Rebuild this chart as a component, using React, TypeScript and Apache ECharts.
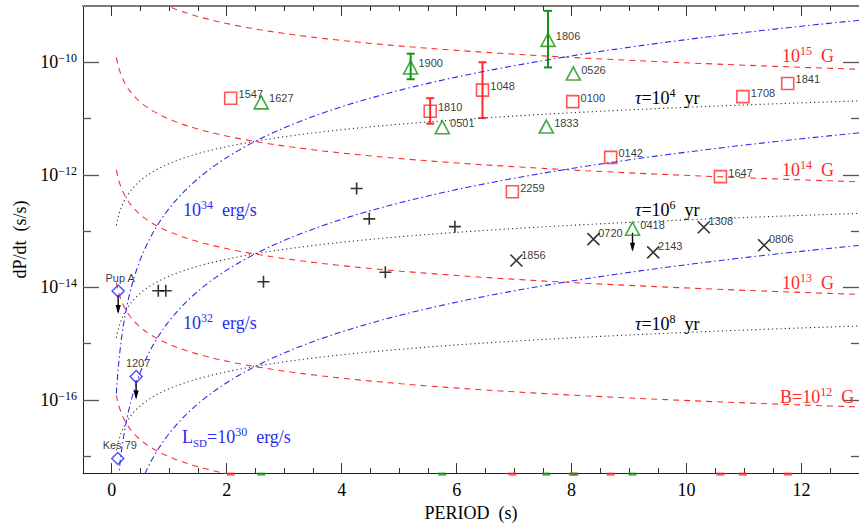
import React, { useEffect, useRef } from "react";
import * as echarts from "echarts";

// ---------- axis ticks ----------
const X_MAJOR_TICKS = [0, 2, 4, 6, 8, 10, 12];
const X_MINOR_TICKS = [0.5, 1, 1.5, 2.5, 3, 3.5, 4.5, 5, 5.5, 6.5, 7, 7.5, 8.5, 9, 9.5, 10.5, 11, 11.5, 12.5];
const Y_MAJOR_TICKS = [-16, -14, -12, -10]; // log10(dP/dt)
const Y_MINOR_TICKS = [-17, -15, -13, -11];

// ---------- data (P in s, Pdot in s/s) ----------
const AXP_NAMES = ["1547", "1810", "1048", "0100", "1708", "1841", "0142", "1647", "2259"];
const AXP_P = [2.07, 5.54, 6.45, 8.02, 10.98, 11.76, 8.68, 10.59, 6.97];
const AXP_PDOT = [2.3e-11, 1.35e-11, 3.2e-11, 2.0e-11, 2.45e-11, 4.2e-11, 2.04e-12, 9.3e-13, 5.0e-13];

const AXP_ERR_P = [5.54, 6.45];
const AXP_ERR_LOW = [8.1e-12, 1.02e-11];
const AXP_ERR_HIGH = [2.3e-11, 1.0e-10];

const SGR_NAMES = ["1627", "1900", "1806", "0526", "0501", "1833", "0418"];
const SGR_P = [2.6, 5.2, 7.59, 8.03, 5.75, 7.56, 9.06];
const SGR_PDOT = [1.94e-11, 8.1e-11, 2.5e-10, 6.3e-11, 7.0e-12, 7.2e-12, 1.1e-13];

const SGR_ERR_P = [5.2, 7.59];
const SGR_ERR_LOW = [5.0e-11, 8.1e-11];
const SGR_ERR_HIGH = [1.42e-10, 8.2e-10];

const XDINS_NAMES = ["1856", "0720", "2143", "1308", "0806"];
const XDINS_P = [7.04, 8.38, 9.42, 10.3, 11.35];
const XDINS_PDOT = [3.0e-14, 7.2e-14, 4.2e-14, 1.17e-13, 5.6e-14];

const HBPSR_P = [4.26, 4.48, 5.97, 4.76, 2.64, 0.81, 0.94];
const HBPSR_PDOT = [5.7e-13, 1.65e-13, 1.2e-13, 1.86e-14, 1.26e-14, 8.7e-15, 8.7e-15];

const CCO_NAMES = ["Pup A", "1207", "Kes 79"];
const CCO_P = [0.112, 0.424, 0.105];
const CCO_PDOT = [8.6e-15, 2.6e-16, 9.1e-18];

// upper limits (down arrows)
const LIMIT_P = [0.112, 0.424, 9.06];
const LIMIT_PDOT = [8.6e-15, 2.6e-16, 1.1e-13];

// rug marks on the period axis
const RUG_RED_P = [2.07, 6.97, 8.02, 8.68, 10.59, 10.98, 11.76];
const RUG_GREEN_P = [2.6, 5.75, 7.56, 8.05, 9.06];

// ---------- theoretical lines ----------
const B_FIELDS = [1e11, 1e12, 1e13, 1e14, 1e15]; // G
const TAU_YEARS = [1e4, 1e6, 1e8]; // yr
const LSD_VALUES = [1e30, 1e32, 1e34]; // erg/s
const CURVE_P_START = 0.08;
const CURVE_P_END = 13.5;
const CURVE_SAMPLES = 260;
const YEAR_S = 3.156e7;
const MOMENT_I = 1e45;

const Y_MIN = -17.3;
const Y_MAX = -9;
const X_MIN = -0.5;
const X_MAX = 13;

const RED = "#ff2a2a";
const GREEN = "#149414";
const BLUE = "#2b2bf0";
const SERIF = "Liberation Serif";
const SANS = "Liberation Sans";

const lg = (v: number) => Math.log10(v);

function curvePoints(fn: (p: number) => number) {
  const pts: number[][] = [];
  for (let i = 0; i <= CURVE_SAMPLES; i++) {
    const p = CURVE_P_START * Math.pow(CURVE_P_END / CURVE_P_START, i / CURVE_SAMPLES);
    pts.push([p, lg(fn(p))]);
  }
  return pts;
}

function pointsOf(P: number[], Pdot: number[], names?: string[]) {
  return P.map((p, i) => ({ name: names ? names[i] : "", value: [p, lg(Pdot[i])] }));
}

function buildOption() {
  const series: any[] = [];

  B_FIELDS.forEach((b) => {
    series.push({
      type: "line",
      data: curvePoints((p) => Math.pow(b / 3.2e19, 2) / p),
      showSymbol: false,
      silent: true,
      clip: true,
      lineStyle: { color: RED, width: 1.1, type: [6, 5] },
    });
  });
  TAU_YEARS.forEach((t) => {
    series.push({
      type: "line",
      data: curvePoints((p) => p / (2 * t * YEAR_S)),
      showSymbol: false,
      silent: true,
      clip: true,
      lineStyle: { color: "#333", width: 1.1, type: [1.2, 3] },
    });
  });
  LSD_VALUES.forEach((l) => {
    series.push({
      type: "line",
      data: curvePoints((p) => (l * p * p * p) / (4 * Math.PI * Math.PI * MOMENT_I)),
      showSymbol: false,
      silent: true,
      clip: true,
      lineStyle: { color: BLUE, width: 1.1, type: [6, 3, 1.5, 3] },
    });
  });

  const errSeries = (P: number[], lo: number[], hi: number[], color: string) => ({
    type: "custom",
    silent: true,
    data: P.map((p, i) => [p, lg(lo[i]), lg(hi[i])]),
    renderItem: (_params: any, api: any) => {
      const x = api.value(0);
      const top = api.coord([x, api.value(2)]);
      const bot = api.coord([x, api.value(1)]);
      const st = { stroke: color, lineWidth: 2 };
      return {
        type: "group",
        children: [
          { type: "line", shape: { x1: top[0], y1: top[1], x2: bot[0], y2: bot[1] }, style: st },
          { type: "line", shape: { x1: top[0] - 4, y1: top[1], x2: top[0] + 4, y2: top[1] }, style: st },
          { type: "line", shape: { x1: bot[0] - 4, y1: bot[1], x2: bot[0] + 4, y2: bot[1] }, style: st },
        ],
      };
    },
  });
  series.push(errSeries(AXP_ERR_P, AXP_ERR_LOW, AXP_ERR_HIGH, RED));
  series.push(errSeries(SGR_ERR_P, SGR_ERR_LOW, SGR_ERR_HIGH, GREEN));

  const labelBase = { show: true, formatter: "{b}", color: "#000", fontFamily: SANS, fontSize: 11 };

  series.push({
    type: "scatter",
    data: pointsOf(AXP_P, AXP_PDOT, AXP_NAMES),
    symbol: "rect",
    symbolSize: 12,
    itemStyle: { color: "rgba(0,0,0,0)", borderColor: RED, borderWidth: 1.6 },
    label: { ...labelBase, position: "right", distance: 1, offset: [0, -4] },
  });
  series.push({
    type: "scatter",
    data: pointsOf(SGR_P, SGR_PDOT, SGR_NAMES),
    symbol: "triangle",
    symbolSize: [14, 13],
    itemStyle: { color: "rgba(0,0,0,0)", borderColor: GREEN, borderWidth: 1.6 },
    label: { ...labelBase, position: "right", distance: 0, offset: [0, -4] },
  });
  series.push({
    type: "scatter",
    data: pointsOf(XDINS_P, XDINS_PDOT, XDINS_NAMES),
    symbol: "path://M0,0L10,10M10,0L0,10",
    symbolSize: 12,
    itemStyle: { color: "rgba(0,0,0,0)", borderColor: "#000", borderWidth: 1.6 },
    label: { ...labelBase, position: "right", distance: -2, offset: [0, -6] },
  });
  series.push({
    type: "scatter",
    data: pointsOf(HBPSR_P, HBPSR_PDOT),
    symbol: "path://M5,0L5,10M0,5L10,5",
    symbolSize: 12,
    itemStyle: { color: "rgba(0,0,0,0)", borderColor: "#000", borderWidth: 1.6 },
  });
  series.push({
    type: "scatter",
    data: pointsOf(CCO_P, CCO_PDOT, CCO_NAMES),
    symbol: "diamond",
    symbolSize: [12, 12],
    itemStyle: { color: "rgba(0,0,0,0)", borderColor: BLUE, borderWidth: 1.5 },
    label: { ...labelBase, position: "top", distance: 1, offset: [2, 0] },
  });

  series.push({
    type: "custom",
    silent: true,
    data: LIMIT_P.map((p, i) => [p, lg(LIMIT_PDOT[i])]),
    renderItem: (_params: any, api: any) => {
      const c = api.coord([api.value(0), api.value(1)]);
      const y0 = c[1] + 4;
      const y1 = c[1] + 23;
      return {
        type: "group",
        children: [
          { type: "line", shape: { x1: c[0], y1: y0, x2: c[0], y2: y1 - 2 }, style: { stroke: "#000", lineWidth: 1.4 } },
          {
            type: "polygon",
            shape: { points: [[c[0] - 2.6, y1 - 9], [c[0], y1], [c[0] + 2.6, y1 - 9]] },
            style: { fill: "#000" },
          },
        ],
      };
    },
  });

  const rug = (P: number[], color: string) => ({
    type: "scatter",
    silent: true,
    clip: false,
    data: P.map((p) => [p, Y_MIN]),
    symbol: "rect",
    symbolSize: [8, 3],
    symbolOffset: [0, 1],
    itemStyle: { color },
  });
  series.push(rug(RUG_RED_P, RED));
  series.push(rug(RUG_GREEN_P, GREEN));

  const axisLineStyle = { color: "#222", width: 1 };
  const xAxisBase = { type: "value", min: X_MIN, max: X_MAX, gridIndex: 0, splitLine: { show: false } };
  const yAxisBase = { type: "value", min: Y_MIN, max: Y_MAX, gridIndex: 0, splitLine: { show: false } };

  const sup = { fontSize: 12, fontFamily: SERIF, color: "#000", verticalAlign: "top", lineHeight: 12 };

  const xAxis = [
    {
      ...xAxisBase,
      position: "bottom",
      axisLine: { show: true, onZero: false, lineStyle: axisLineStyle },
      axisTick: { show: true, inside: true, length: 10, customValues: X_MAJOR_TICKS, lineStyle: { color: "#333" } },
      axisLabel: { show: true, customValues: X_MAJOR_TICKS, fontFamily: SERIF, fontSize: 18, color: "#000", margin: 8 },
      name: "PERIOD  (s)",
      nameLocation: "middle",
      nameGap: 26,
      nameTextStyle: { fontFamily: SERIF, fontSize: 18, color: "#000" },
    },
    {
      ...xAxisBase,
      position: "bottom",
      axisLine: { show: false, onZero: false },
      axisTick: { show: true, inside: true, length: 5, customValues: X_MINOR_TICKS, lineStyle: { color: "#333" } },
      axisLabel: { show: false },
    },
    {
      ...xAxisBase,
      position: "top",
      axisLine: { show: true, onZero: false, lineStyle: { color: "#7a7a7a", width: 2 } },
      axisTick: { show: true, inside: true, length: 10, customValues: X_MAJOR_TICKS, lineStyle: { color: "#333" } },
      axisLabel: { show: false },
    },
    {
      ...xAxisBase,
      position: "top",
      axisLine: { show: false, onZero: false },
      axisTick: { show: true, inside: true, length: 5, customValues: X_MINOR_TICKS, lineStyle: { color: "#333" } },
      axisLabel: { show: false },
    },
  ];

  const yAxis = [
    {
      ...yAxisBase,
      position: "left",
      axisLine: { show: true, onZero: false, lineStyle: axisLineStyle },
      axisTick: { show: true, inside: true, length: 16, customValues: Y_MAJOR_TICKS, lineStyle: { color: "#555", width: 1.3 } },
      axisLabel: {
        show: true,
        customValues: Y_MAJOR_TICKS,
        margin: 6,
        formatter: (v: number) => `{b|10}{s|\u2212${Math.abs(v)}}`,
        rich: {
          b: { fontSize: 18, fontFamily: SERIF, color: "#000", lineHeight: 20 },
          s: sup,
        },
      },
      name: "dP/dt  (s/s)",
      nameLocation: "middle",
      nameRotate: 90,
      nameGap: 52,
      nameTextStyle: { fontFamily: SERIF, fontSize: 18, color: "#000" },
    },
    {
      ...yAxisBase,
      position: "left",
      axisLine: { show: false, onZero: false },
      axisTick: { show: true, inside: true, length: 8, customValues: Y_MINOR_TICKS, lineStyle: { color: "#555", width: 1.3 } },
      axisLabel: { show: false },
    },
    {
      ...yAxisBase,
      position: "right",
      axisLine: { show: true, onZero: false, lineStyle: axisLineStyle },
      axisTick: { show: true, inside: true, length: 16, customValues: Y_MAJOR_TICKS, lineStyle: { color: "#555", width: 1.3 } },
      axisLabel: { show: false },
    },
    {
      ...yAxisBase,
      position: "right",
      axisLine: { show: false, onZero: false },
      axisTick: { show: true, inside: true, length: 8, customValues: Y_MINOR_TICKS, lineStyle: { color: "#555", width: 1.3 } },
      axisLabel: { show: false },
    },
  ];

  const richText = (fill: string) => ({
    b: { fontSize: 18, fontFamily: SERIF, lineHeight: 22, fill },
    s: { fontSize: 12, fontFamily: SERIF, lineHeight: 13, verticalAlign: "top", fill },
    sub: { fontSize: 11, fontFamily: SERIF, lineHeight: 12, verticalAlign: "bottom", fill },
    t: { fontSize: 18, fontFamily: SERIF, fontStyle: "italic", lineHeight: 22, fill },
  });
  const txt = (x: number, y: number, text: string, fill: string) => ({
    type: "text",
    x,
    y,
    silent: true,
    z: 10,
    style: {
      text,
      fill,
      align: "left",
      verticalAlign: "middle",
      textAlign: "left",
      textVerticalAlign: "middle",
      rich: richText(fill),
    },
  });

  const graphic = [
    txt(782, 56, "{b|10}{s|15}{b|  G}", RED),
    txt(782, 170, "{b|10}{s|14}{b|  G}", RED),
    txt(782, 283, "{b|10}{s|13}{b|  G}", RED),
    txt(780, 397, "{b|B=10}{s|12}{b|  G}", RED),
    txt(635, 98, "{t|\u03c4}{b|=10}{s|4}{b|  yr}", "#000"),
    txt(635, 210, "{t|\u03c4}{b|=10}{s|6}{b|  yr}", "#000"),
    txt(635, 324, "{t|\u03c4}{b|=10}{s|8}{b|  yr}", "#000"),
    txt(183, 210, "{b|10}{s|34}{b|  erg/s}", BLUE),
    txt(183, 323, "{b|10}{s|32}{b|  erg/s}", BLUE),
    txt(182, 437, "{b|L}{sub|SD}{b|=10}{s|30}{b|  erg/s}", BLUE),
  ];

  return {
    animation: false,
    backgroundColor: "#fff",
    grid: { left: 83, top: 6, width: 785, height: 471, containLabel: false },
    xAxis,
    yAxis,
    series,
    graphic,
  };
}

export default function App() {
  const ref = useRef<HTMLDivElement>(null);
  useEffect(() => {
    if (!ref.current) return;
    const chart = echarts.init(ref.current, null, { renderer: "svg" });
    chart.setOption(buildOption() as any);
    return () => chart.dispose();
  }, []);
  return (
    <div
      ref={ref}
      style={{ position: "fixed", left: 0, top: 0, width: 859, height: 527, background: "#fff" }}
    />
  );
}
